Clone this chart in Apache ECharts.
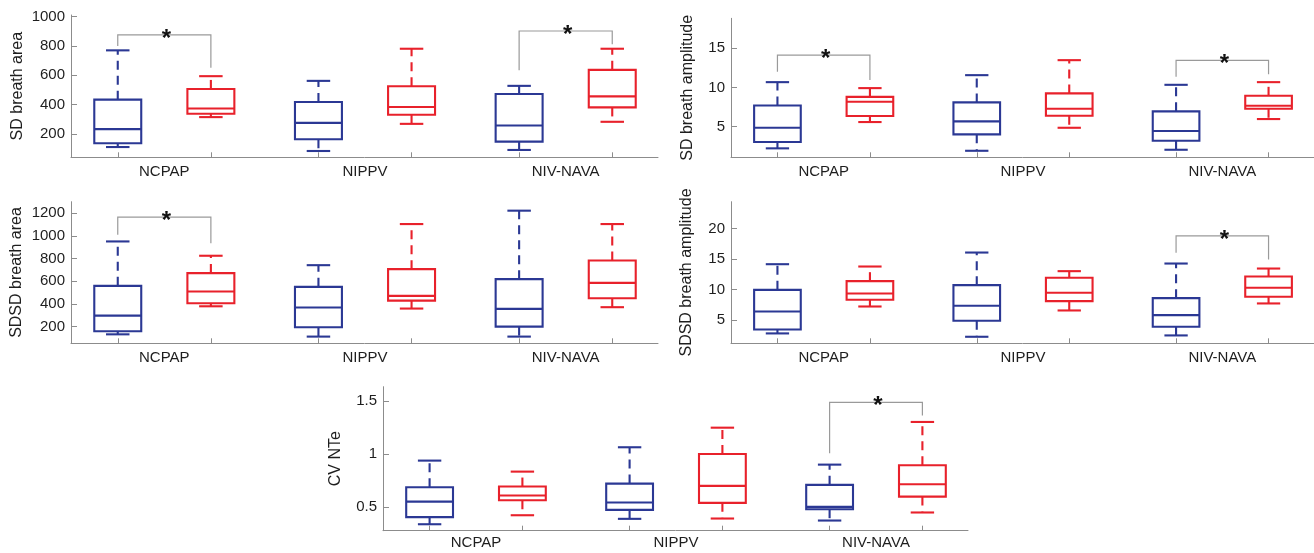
<!DOCTYPE html>
<html>
<head>
<meta charset="utf-8">
<script src="https://cdn.jsdelivr.net/npm/echarts@6/dist/echarts.min.js"></script>
<style>
html,body{margin:0;padding:0;background:#fff;}
#chart{width:1314px;height:553px;}
</style>
</head>
<body>
<div id="chart"></div>
<script>
// ---------- data (box = [min, Q1, median, Q3, max]) ----------
const categories = ['NCPAP', 'NIPPV', 'NIV-NAVA'];

const sdAreaTicks = [200, 400, 600, 800, 1000];
const sdAreaBlue = [[110,136,232,433,769],[83,163,275,417,561],[90,147,257,472,527]];
const sdAreaRed  = [[314,337,373,506,593],[268,330,383,524,780],[282,380,455,636,780]];
const sdAreaSig  = [[0, 874, 798, 650], [2, 901, 634, 810]]; // [group, top, leftEnd, rightEnd]

const sdAmpTicks = [5, 10, 15];
const sdAmpBlue = [[2.24,3.04,4.86,7.7,10.67],[1.93,4.02,5.67,8.09,11.56],[2.06,3.21,4.44,6.95,10.33]];
const sdAmpRed  = [[5.59,6.35,8.17,8.8,9.91],[4.86,6.39,7.28,9.24,13.47],[5.97,7.28,7.66,8.93,10.67]];
const sdAmpSig  = [[0, 14.11, 11.98, 10.93], [2, 13.43, 11.35, 11.69]];

const sdsdAreaTicks = [200, 400, 600, 800, 1000, 1200];
const sdsdAreaBlue = [[132,159,297,559,950],[112,194,368,550,741],[112,200,356,618,1221]];
const sdsdAreaRed  = [[379,406,509,671,824],[359,429,471,706,1103],[371,450,585,782,1103]];
const sdsdAreaSig  = [[0, 1165, 1009, 935]];

const sdsdAmpTicks = [5, 10, 15, 20];
const sdsdAmpBlue = [[2.82,3.47,6.42,9.96,14.16],[2.27,4.89,7.34,10.73,16.07],[2.49,3.91,5.82,8.6,14.27]];
const sdsdAmpRed  = [[7.23,8.33,9.36,11.38,13.78],[6.58,8.11,9.47,11.93,13.02],[7.73,8.82,10.29,12.14,13.45]];
const sdsdAmpSig  = [[2, 18.8, 16.02, 14.93]];

const cvTicks = [0.5, 1, 1.5];
const cvBlue = [[0.336,0.403,0.55,0.686,0.937],[0.387,0.472,0.541,0.72,1.063],[0.371,0.478,0.5,0.708,0.899]];
const cvRed  = [[0.421,0.563,0.607,0.692,0.833],[0.39,0.538,0.698,1.0,1.248],[0.447,0.597,0.714,0.893,1.302]];
const cvSig  = [[2, 1.487, 1.006, 1.362]];

// ---------- styling / layout ----------
const BLUE = '#2b3894';
const RED = '#e8212b';
const AXIS = '#8c8c8c';
const TEXT = '#1e1e1e';
const FONT = '"Liberation Sans", Arial, Helvetica, sans-serif';
const OFF = 0.232;   // box offset from group centre (x units)
const BOXW = 0.234;  // box width (x units)

const panels = [
  {name:'SD breath area', ticks:sdAreaTicks, blue:sdAreaBlue, red:sdAreaRed, sig:sdAreaSig,
   min:40, max:1010, grid:{left:71, top:15, width:587, height:142.3}, nameGap:45, labMargin:7},
  {name:'SD breath amplitude', ticks:sdAmpTicks, blue:sdAmpBlue, red:sdAmpRed, sig:sdAmpSig,
   min:1.1, max:18.8, grid:{left:731, top:18.3, width:587, height:139}, nameGap:35, labMargin:7},
  {name:'SDSD breath area', ticks:sdsdAreaTicks, blue:sdsdAreaBlue, red:sdsdAreaRed, sig:sdsdAreaSig,
   min:53, max:1300, grid:{left:71, top:201.7, width:587, height:141.6}, nameGap:46, labMargin:7},
  {name:'SDSD breath amplitude', ticks:sdsdAmpTicks, blue:sdsdAmpBlue, red:sdsdAmpRed, sig:sdsdAmpSig,
   min:1.2, max:24.4, grid:{left:731, top:201.7, width:587, height:141.6}, nameGap:36, labMargin:7},
  {name:'CV NTe', ticks:cvTicks, blue:cvBlue, red:cvRed, sig:cvSig,
   min:0.275, max:1.635, grid:{left:383, top:386.7, width:585, height:144}, nameGap:39, labMargin:5}
];

const xTickPos = [];
categories.forEach((c, i) => { xTickPos.push(i + 1 - OFF, i + 1 + OFF); });

function boxRender(offset, color) {
  return function (params, api) {
    const g = api.value(0);
    const yv = [1,2,3,4,5].map(k => api.coord([g, api.value(k)])[1]);
    const xc = api.coord([g + offset, 0])[0];
    const w = api.size([BOXW, 0])[0];
    const hw = w / 2, cw = w / 4;
    const solid = {stroke: color, lineWidth: 2.1, fill: null};
    const dashed = {stroke: color, lineWidth: 2.1, lineDash: [9, 6], fill: null};
    return {
      type: 'group',
      children: [
        {type:'line', shape:{x1:xc, y1:yv[3], x2:xc, y2:yv[4]}, style:dashed},
        {type:'line', shape:{x1:xc, y1:yv[1], x2:xc, y2:yv[0]}, style:dashed},
        {type:'line', shape:{x1:xc-cw, y1:yv[4], x2:xc+cw, y2:yv[4]}, style:solid},
        {type:'line', shape:{x1:xc-cw, y1:yv[0], x2:xc+cw, y2:yv[0]}, style:solid},
        {type:'rect', shape:{x:xc-hw, y:yv[3], width:w, height:yv[1]-yv[3]}, style:solid},
        {type:'line', shape:{x1:xc-hw, y1:yv[2], x2:xc+hw, y2:yv[2]}, style:solid}
      ]
    };
  };
}

function sigRender(params, api) {
  const g = api.value(0);
  const top = api.coord([g - OFF, api.value(1)]);
  const l = api.coord([g - OFF, api.value(2)]);
  const r = api.coord([g + OFF, api.value(3)]);
  const rTop = api.coord([g + OFF, api.value(1)]);
  return {
    type: 'group',
    children: [
      {type:'polyline', shape:{points:[[l[0], l[1]], [top[0], top[1]], [rTop[0], rTop[1]], [r[0], r[1]]]},
       style:{stroke:'#9a9a9a', lineWidth:1.2, fill:null}},
      {type:'text', x:(top[0] + rTop[0]) / 2 + 2, y:top[1] + 4,
       style:{text:'*', fill:'#111', font:'bold 24px ' + FONT, align:'center', verticalAlign:'middle'}}
    ]
  };
}

const option = {
  animation: false,
  backgroundColor: '#fff',
  grid: [], xAxis: [], yAxis: [], series: []
};

panels.forEach((p, i) => {
  option.grid.push(Object.assign({containLabel:false}, p.grid));
  option.xAxis.push({
    type:'value', gridIndex:i, min:0.535, max:3.46,
    axisLine:{show:true, onZero:false, lineStyle:{color:AXIS, width:1}},
    axisTick:{show:true, inside:true, length:5, customValues:xTickPos, lineStyle:{color:AXIS}},
    axisLabel:{show:true, customValues:[1,2,3], margin:p.labMargin, fontSize:15, color:TEXT, fontFamily:FONT,
      formatter: v => categories[Math.round(v) - 1]},
    splitLine:{show:false}
  });
  option.yAxis.push({
    type:'value', gridIndex:i, min:p.min, max:p.max,
    name:p.name, nameLocation:'middle', nameGap:p.nameGap,
    nameTextStyle:{fontSize:16, color:TEXT, fontFamily:FONT},
    axisLine:{show:true, onZero:false, lineStyle:{color:AXIS, width:1}},
    axisTick:{show:true, inside:true, length:6, customValues:p.ticks, lineStyle:{color:AXIS}},
    axisLabel:{show:true, customValues:p.ticks, margin:6, fontSize:15, color:TEXT, fontFamily:FONT,
      formatter: v => String(v)},
    splitLine:{show:false}
  });
  option.series.push({
    type:'custom', xAxisIndex:i, yAxisIndex:i, renderItem:boxRender(-OFF, BLUE),
    encode:{x:0, y:[1,2,3,4,5]},
    data:p.blue.map((b, k) => [k + 1].concat(b))
  });
  option.series.push({
    type:'custom', xAxisIndex:i, yAxisIndex:i, renderItem:boxRender(OFF, RED),
    encode:{x:0, y:[1,2,3,4,5]},
    data:p.red.map((b, k) => [k + 1].concat(b))
  });
  option.series.push({
    type:'custom', xAxisIndex:i, yAxisIndex:i, renderItem:sigRender, clip:false,
    encode:{x:0, y:[1,2,3]},
    data:p.sig.map(s => [s[0] + 1, s[1], s[2], s[3]])
  });
});

const chart = echarts.init(document.getElementById('chart'), null, {renderer:'canvas'});
chart.setOption(option);
</script>
</body>
</html>
